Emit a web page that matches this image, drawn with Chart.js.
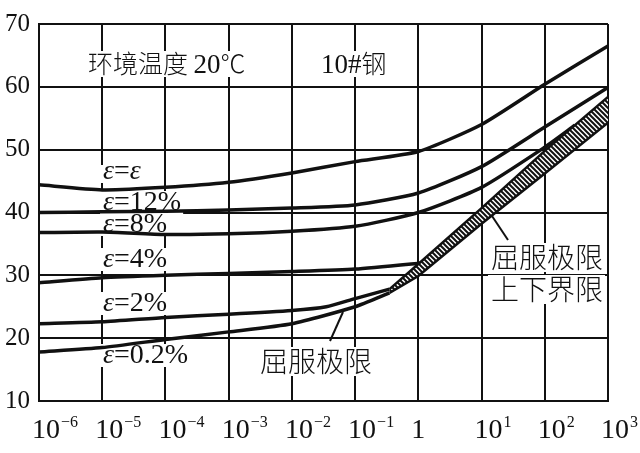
<!DOCTYPE html>
<html>
<head>
<meta charset="utf-8">
<script src="https://cdn.jsdelivr.net/npm/chart.js@4.4.0/dist/chart.umd.min.js"></script>
<style>
  html, body { margin: 0; padding: 0; background: #fff; }
  #wrap { width: 640px; height: 453px; }
</style>
</head>
<body>
<div id="wrap"><canvas id="yieldChart" width="640" height="453"></canvas></div>
<script>
// 坐标轴刻度
const xTicks = [1e-6, 1e-5, 1e-4, 1e-3, 1e-2, 1e-1, 1, 10, 100, 1000];
const xExponents = ['\u22126', '\u22125', '\u22124', '\u22123', '\u22122', '\u22121', '', '1', '2', '3'];
const yTicks = [10, 20, 30, 40, 50, 60, 70];

// 各应变曲线 [应变速率, 应力]
const curveEpsE = [[1e-6, 44.4], [1e-5, 43.6], [1e-4, 44.0], [1e-3, 44.8], [1e-2, 46.3], [1e-1, 48.1], [1, 49.7], [10, 54.0], [100, 60.4], [1000, 66.5]];
const curve12 = [[1e-6, 40.0], [1e-5, 40.1], [1e-4, 40.2], [1e-3, 40.4], [1e-2, 40.7], [1e-1, 41.2], [1, 43.1], [10, 47.3], [100, 53.6], [1000, 59.9]];
const curve8 = [[1e-6, 36.8], [1e-5, 36.9], [1e-4, 36.5], [1e-3, 36.6], [1e-2, 37.0], [1e-1, 37.8], [1, 40.0], [10, 44.0], [100, 50.4], [300, 53.9]];
const curve4 = [[1e-6, 28.8], [1e-5, 29.6], [1e-4, 30.0], [1e-3, 30.3], [1e-2, 30.6], [1e-1, 31.0], [1.5, 32.1]];
const curve2 = [[1e-6, 22.3], [1e-5, 22.6], [1e-4, 23.3], [1e-3, 23.8], [1e-2, 24.4], [0.035, 25.0], [1e-1, 26.3], [0.35, 27.8]];
const curve02 = [[1e-6, 17.8], [1e-5, 18.5], [1e-4, 19.8], [1e-3, 21.0], [1e-2, 22.3], [1e-1, 25.0], [0.35, 27.2]];

// 屈服极限上下界限
const bandUpper = [[0.35, 27.8], [1, 31.8], [10, 40.7], [100, 49.8], [1000, 58.4]];
const bandLower = [[0.35, 27.2], [1, 29.9], [10, 38.2], [100, 46.2], [1000, 54.3]];

const INK = '#111';
const SERIF = "'Liberation Serif', 'Times New Roman', serif";
const CJK = "'Noto Sans CJK SC', 'Noto Sans CJK JP', sans-serif";

const toPts = arr => arr.map(p => ({ x: p[0], y: p[1] }));

// 斜线填充
function hatchPattern() {
  const c = document.createElement('canvas');
  const s = 5;
  c.width = s; c.height = s;
  const g = c.getContext('2d');
  g.fillStyle = '#fff';
  g.fillRect(0, 0, s, s);
  g.strokeStyle = INK;
  g.lineWidth = 2;
  g.beginPath();
  g.moveTo(-1, -1); g.lineTo(s + 1, s + 1);
  g.moveTo(-1, s - 1); g.lineTo(1, s + 1);
  g.moveTo(s - 1, -1); g.lineTo(s + 1, 1);
  g.stroke();
  return g.createPattern(c, 'repeat');
}

function line(data, extra) {
  return Object.assign({
    data: toPts(data),
    borderColor: INK,
    borderWidth: 3.5,
    pointRadius: 0,
    tension: 0.2,
    fill: false
  }, extra || {});
}

const it = t => ({ t: t, f: 'italic 28px ' + SERIF });
const up = t => ({ t: t, f: '28px ' + SERIF });
const cjk = (t, size) => ({ t: t, f: '300 ' + (size || 28) + 'px ' + CJK });
const num = (t, size) => ({ t: t, f: (size || 27) + 'px ' + SERIF });

const notes = [
  { x: 103, y: 179, top: 14, parts: [it('\u03b5'), up('='), it('\u03b5')] },
  { x: 103, y: 210, top: 19, parts: [it('\u03b5'), up('=12%')] },
  { x: 103, y: 232, top: 19, parts: [it('\u03b5'), up('=8%')] },
  { x: 103, y: 267, top: 19, parts: [it('\u03b5'), up('=4%')] },
  { x: 103, y: 311, top: 19, parts: [it('\u03b5'), up('=2%')] },
  { x: 103, y: 363, top: 19, parts: [it('\u03b5'), up('=0.2%')] },
  { x: 88, y: 73, top: 22, parts: [cjk('\u73af\u5883\u6e29\u5ea6 ', 25), num('20'), cjk('\u2103', 25)] },
  { x: 321, y: 73, top: 22, parts: [num('10#'), cjk('\u94a2', 25)] },
  { x: 260, y: 372, top: 25, parts: [cjk('\u5c48\u670d\u6781\u9650')] },
  { x: 491, y: 268, top: 25, parts: [cjk('\u5c48\u670d\u6781\u9650')] },
  { x: 491, y: 300, top: 25, parts: [cjk('\u4e0a\u4e0b\u754c\u9650')] }
];

const pointers = [[343, 312, 330, 341], [492, 216, 508, 240]];

function runs(ctx, x, y, parts, draw) {
  let cx = x;
  parts.forEach(p => {
    ctx.font = p.f;
    if (draw) ctx.fillText(p.t, cx, y);
    cx += ctx.measureText(p.t).width;
  });
  return cx - x;
}

const annotate = {
  id: 'annotate',
  beforeDatasetsDraw(chart) {
    const ctx = chart.ctx;
    ctx.save();
    ctx.fillStyle = '#fff';
    notes.forEach(n => {
      const w = runs(ctx, n.x, n.y, n.parts, false);
      ctx.fillRect(n.x - 3, n.y - n.top, w + 5, n.top + 4);
    });
    ctx.restore();
  },
  afterDatasetsDraw(chart) {
    const ctx = chart.ctx;
    ctx.save();
    ctx.fillStyle = INK;
    ctx.textBaseline = 'alphabetic';
    notes.forEach(n => runs(ctx, n.x, n.y, n.parts, true));
    ctx.strokeStyle = INK;
    ctx.lineWidth = 2;
    pointers.forEach(p => {
      ctx.beginPath();
      ctx.moveTo(p[0], p[1]);
      ctx.lineTo(p[2], p[3]);
      ctx.stroke();
    });
    ctx.restore();
  },
  afterDraw(chart) {
    // x 轴刻度: 10 的幂
    const ctx = chart.ctx;
    const xs = chart.scales.x;
    ctx.save();
    ctx.fillStyle = INK;
    ctx.textBaseline = 'alphabetic';
    xTicks.forEach((v, i) => {
      const px = xs.getPixelForValue(v);
      if (v === 1) {
        ctx.font = '28px ' + SERIF;
        ctx.textAlign = 'center';
        ctx.fillText('1', px, 438);
        return;
      }
      ctx.textAlign = 'left';
      ctx.font = '28px ' + SERIF;
      ctx.fillText('10', px - 7, 438);
      const w = ctx.measureText('10').width;
      ctx.font = '16px ' + SERIF;
      ctx.fillText(xExponents[i], px - 7 + w + 1, 427);
    });
    ctx.restore();
  }
};

const ctx = document.getElementById('yieldChart').getContext('2d');
const hatch = hatchPattern();

const yieldChart = new Chart(ctx, {
  type: 'line',
  data: {
    datasets: [
      line(bandLower, { borderWidth: 2.5, tension: 0 }),
      line(bandUpper, { borderWidth: 2.5, tension: 0, fill: '-1', backgroundColor: hatch }),
      line(curveEpsE),
      line(curve12),
      line(curve8),
      line(curve4),
      line(curve2),
      line(curve02)
    ]
  },
  options: {
    responsive: false,
    animation: false,
    layout: { padding: { top: 23, right: 32, left: 0, bottom: 0 } },
    plugins: {
      legend: { display: false },
      tooltip: { enabled: false }
    },
    scales: {
      x: {
        type: 'logarithmic',
        min: 1e-6,
        max: 1e3,
        afterBuildTicks: s => { s.ticks = xTicks.map(v => ({ value: v })); },
        afterFit: s => { s.height = 52; },
        ticks: { display: false },
        grid: { color: INK, lineWidth: 2, drawTicks: false },
        border: { color: INK, width: 2 }
      },
      y: {
        min: 10,
        max: 70,
        afterBuildTicks: s => { s.ticks = yTicks.map(v => ({ value: v })); },
        afterFit: s => { s.width = 39; },
        ticks: { color: INK, padding: 9, font: { family: SERIF, size: 25 } },
        grid: { color: INK, lineWidth: 2, drawTicks: false },
        border: { color: INK, width: 2 }
      }
    }
  },
  plugins: [annotate]
});
</script>
</body>
</html>
